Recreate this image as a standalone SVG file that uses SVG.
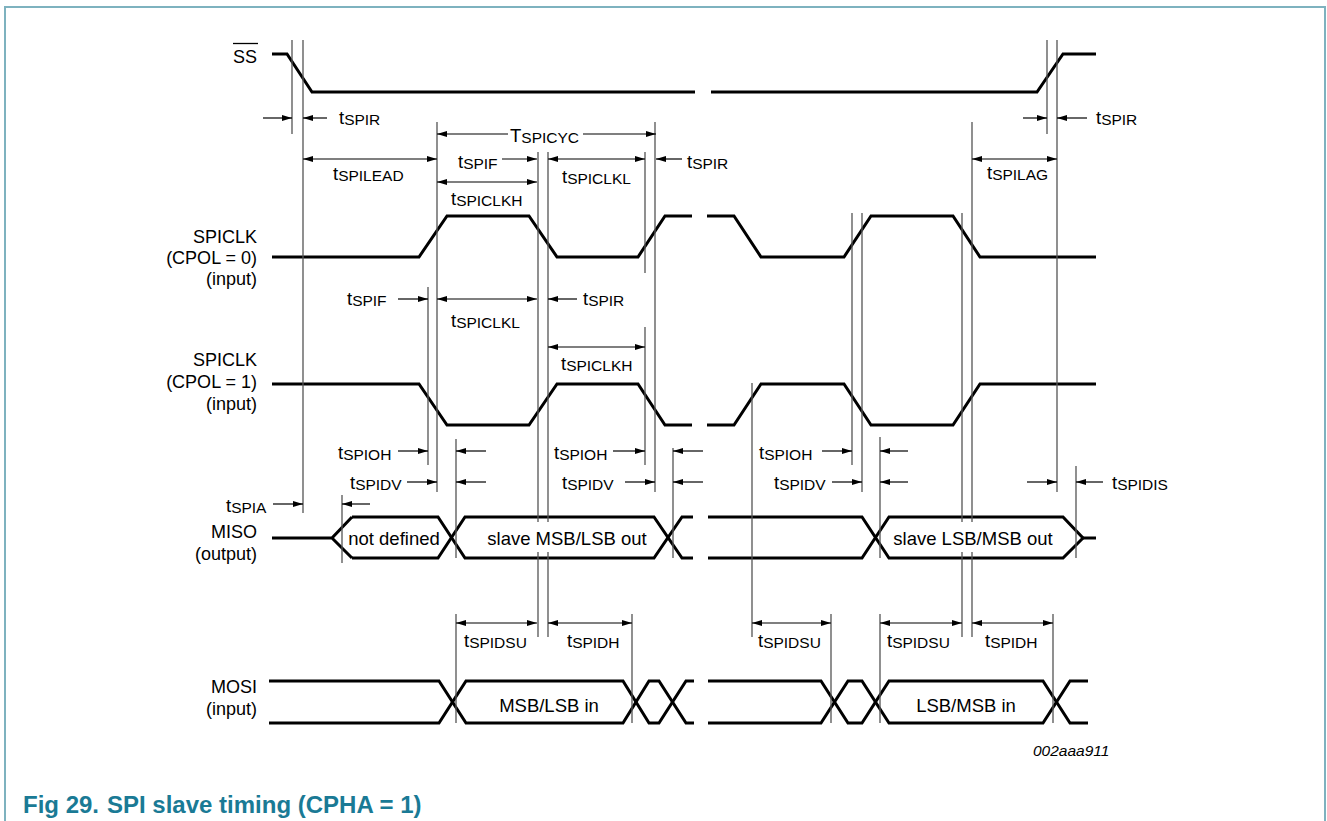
<svg xmlns="http://www.w3.org/2000/svg" width="1327" height="821" viewBox="0 0 1327 821">
<defs>
<style>
.wave{fill:none;stroke:#000;stroke-width:3;stroke-linejoin:miter;stroke-linecap:butt}
.guide{stroke:#555;stroke-width:1.3;fill:none}
.arr{stroke:#000;stroke-width:1.2;fill:none}
.one{marker-end:url(#ah)}
.two{marker-start:url(#ah);marker-end:url(#ah)}
.lbl{font-family:"Liberation Sans",Arial,sans-serif;font-size:18.5px;fill:#000}
.sig{font-family:"Liberation Sans",Arial,sans-serif;font-size:18px;fill:#000;text-anchor:end}
.dat{font-family:"Liberation Sans",Arial,sans-serif;font-size:18.5px;fill:#000;text-anchor:middle}
.sub{font-size:15.5px}
.cap{font-family:"Liberation Sans",Arial,sans-serif;font-size:24px;font-weight:bold;fill:#1a7a95}
.code{font-family:"Liberation Sans",Arial,sans-serif;font-size:15.5px;font-style:italic;fill:#000}
</style>
<marker id="ah" viewBox="0 0 10 6" refX="10" refY="3" markerWidth="10" markerHeight="6" markerUnits="userSpaceOnUse" orient="auto-start-reverse">
<path d="M0,0 L10,3 L0,6 z" fill="#000"/>
</marker>
</defs>
<rect width="1327" height="821" fill="#fff"/>
<path d="M5,821 V7 H1325 V821" fill="none" stroke="#7eb2bf" stroke-width="2"/>

<g id="labels-signals">
<text class="sig" x="257" y="63">SS</text>
<line x1="233" y1="43.5" x2="258" y2="43.5" stroke="#000" stroke-width="1.3"/>
<text class="sig" x="257" y="243">SPICLK</text>
<text class="sig" x="257" y="264">(CPOL = 0)</text>
<text class="sig" x="257" y="285">(input)</text>
<text class="sig" x="257" y="366">SPICLK</text>
<text class="sig" x="257" y="388">(CPOL = 1)</text>
<text class="sig" x="257" y="410">(input)</text>
<text class="sig" x="257" y="538">MISO</text>
<text class="sig" x="257" y="560">(output)</text>
<text class="sig" x="257" y="693">MOSI</text>
<text class="sig" x="257" y="715">(input)</text>
</g>

<g id="sig-ss">
<path class="wave" d="M272,54 H287 L312,92 H695"/>
<path class="wave" d="M711,92 H1037 L1063,54 H1096"/>
</g>

<g id="sig-spiclk-cpol0">
<path class="wave" d="M272,257 H419 L447,216 H529 L557,257 H638 L665,216 H692"/>
<path class="wave" d="M707,216 H734 L761,257 H844 L871,216 H953 L980,257 H1096"/>
</g>

<g id="sig-spiclk-cpol1">
<path class="wave" d="M272,384 H419 L447,425 H529 L557,384 H638 L665,425 H692"/>
<path class="wave" d="M707,425 H734 L761,384 H844 L871,425 H953 L980,384 H1096"/>
</g>

<g id="sig-miso">
<path class="wave" d="M272,538 H332 M352,517 L332,538 L352,558"/>
<path class="wave" d="M352,517 H438 L465,558 H654 L682,517 H693"/>
<path class="wave" d="M352,558 H438 L465,517 H654 L682,558 H693"/>
<path class="wave" d="M708,517 H862 L889,558 H1063 L1083,538 L1063,517 H889 L862,558 H708"/>
<path class="wave" d="M1083,538 H1096"/>
<text class="dat" x="394" y="545">not defined</text>
<text class="dat" x="567" y="545">slave MSB/LSB out</text>
<text class="dat" x="973" y="545">slave LSB/MSB out</text>
</g>

<g id="sig-mosi">
<path class="wave" d="M269,681 H439 L466,723 H623 L649,681 H659 L686,723 H694"/>
<path class="wave" d="M269,723 H439 L466,681 H623 L649,723 H659 L686,681 H694"/>
<path class="wave" d="M708,681 H821 L848,723 H862 L889,681 H1043 L1070,723 H1088"/>
<path class="wave" d="M708,723 H821 L848,681 H862 L889,723 H1043 L1070,681 H1088"/>
<text class="dat" x="549" y="712">MSB/LSB in</text>
<text class="dat" x="966" y="712">LSB/MSB in</text>
</g>

<g id="connectors">
<g id="guides">
<path class="guide" d="M292,40 V134 M303,40 V513 M342,495 V563 M428,287 V465 M437,122 V492
M456,439 V558 M456,614 V723 M538,152 V522 M538,552 V637 M548,152 V522 M548,552 V637
M632,614 V723 M645,152 V273 M645,327 V465 M655,122 V492 M673,448 V558
M752,383 V637 M831,614 V723 M852,213 V465 M862,213 V492 M880,437 V558 M880,614 V723
M962,213 V522 M962,552 V637 M972,122 V522 M972,552 V637 M1047,40 V134 M1057,40 V492
M1053,614 V723 M1076,466 V558"/>
</g>
<g id="arrows">
<line class="arr one" x1="263" y1="118" x2="292" y2="118"/>
<line class="arr one" x1="327" y1="118" x2="303" y2="118"/>
<line class="arr one" x1="1023" y1="118" x2="1047" y2="118"/>
<line class="arr one" x1="1087" y1="118" x2="1057" y2="118"/>
<line class="arr one" x1="508" y1="134" x2="437" y2="134"/>
<line class="arr one" x1="583" y1="134" x2="656" y2="134"/>
<line class="arr two" x1="303" y1="159" x2="437" y2="159"/>
<line class="arr one" x1="502" y1="159" x2="537" y2="159"/>
<line class="arr two" x1="548" y1="159" x2="645" y2="159"/>
<line class="arr one" x1="682" y1="159" x2="656" y2="159"/>
<line class="arr two" x1="437" y1="182" x2="537" y2="182"/>
<line class="arr two" x1="972" y1="159" x2="1057" y2="159"/>
<line class="arr one" x1="398" y1="299" x2="428" y2="299"/>
<line class="arr two" x1="437" y1="299" x2="537" y2="299"/>
<line class="arr one" x1="577" y1="299" x2="548" y2="299"/>
<line class="arr two" x1="548" y1="347" x2="645" y2="347"/>
<line class="arr one" x1="398" y1="451" x2="428" y2="451"/>
<line class="arr one" x1="486" y1="451" x2="456" y2="451"/>
<line class="arr one" x1="613" y1="451" x2="645" y2="451"/>
<line class="arr one" x1="703" y1="451" x2="673" y2="451"/>
<line class="arr one" x1="822" y1="451" x2="852" y2="451"/>
<line class="arr one" x1="908" y1="451" x2="880" y2="451"/>
<line class="arr one" x1="407" y1="482" x2="437" y2="482"/>
<line class="arr one" x1="486" y1="482" x2="456" y2="482"/>
<line class="arr one" x1="625" y1="482" x2="655" y2="482"/>
<line class="arr one" x1="703" y1="482" x2="673" y2="482"/>
<line class="arr one" x1="832" y1="482" x2="862" y2="482"/>
<line class="arr one" x1="908" y1="482" x2="880" y2="482"/>
<line class="arr one" x1="1027" y1="482" x2="1057" y2="482"/>
<line class="arr one" x1="1103" y1="482" x2="1076" y2="482"/>
<line class="arr one" x1="273" y1="504" x2="303" y2="504"/>
<line class="arr one" x1="370" y1="504" x2="342" y2="504"/>
<line class="arr two" x1="456" y1="623" x2="537" y2="623"/>
<line class="arr two" x1="548" y1="623" x2="632" y2="623"/>
<line class="arr two" x1="752" y1="623" x2="831" y2="623"/>
<line class="arr two" x1="880" y1="623" x2="962" y2="623"/>
<line class="arr two" x1="972" y1="623" x2="1053" y2="623"/>
</g>
</g>

<g id="timing-labels">
<text class="lbl" x="339" y="124">t<tspan class="sub" dy="1">SPIR</tspan></text>
<text class="lbl" x="1096" y="124">t<tspan class="sub" dy="1">SPIR</tspan></text>
<text class="lbl" x="510" y="142">T<tspan class="sub" dy="1">SPICYC</tspan></text>
<text class="lbl" x="333" y="180">t<tspan class="sub" dy="1">SPILEAD</tspan></text>
<text class="lbl" x="458" y="168">t<tspan class="sub" dy="1">SPIF</tspan></text>
<text class="lbl" x="562" y="183">t<tspan class="sub" dy="1">SPICLKL</tspan></text>
<text class="lbl" x="687" y="168">t<tspan class="sub" dy="1">SPIR</tspan></text>
<text class="lbl" x="451" y="205">t<tspan class="sub" dy="1">SPICLKH</tspan></text>
<text class="lbl" x="987" y="179">t<tspan class="sub" dy="1">SPILAG</tspan></text>
<text class="lbl" x="347" y="305">t<tspan class="sub" dy="1">SPIF</tspan></text>
<text class="lbl" x="451" y="327">t<tspan class="sub" dy="1">SPICLKL</tspan></text>
<text class="lbl" x="583" y="305">t<tspan class="sub" dy="1">SPIR</tspan></text>
<text class="lbl" x="561" y="370">t<tspan class="sub" dy="1">SPICLKH</tspan></text>
<text class="lbl" x="338" y="459">t<tspan class="sub" dy="1">SPIOH</tspan></text>
<text class="lbl" x="350" y="489">t<tspan class="sub" dy="1">SPIDV</tspan></text>
<text class="lbl" x="226" y="512">t<tspan class="sub" dy="1">SPIA</tspan></text>
<text class="lbl" x="554" y="459">t<tspan class="sub" dy="1">SPIOH</tspan></text>
<text class="lbl" x="562" y="489">t<tspan class="sub" dy="1">SPIDV</tspan></text>
<text class="lbl" x="759" y="459">t<tspan class="sub" dy="1">SPIOH</tspan></text>
<text class="lbl" x="774" y="489">t<tspan class="sub" dy="1">SPIDV</tspan></text>
<text class="lbl" x="1112" y="489">t<tspan class="sub" dy="1">SPIDIS</tspan></text>
<text class="lbl" x="464" y="647">t<tspan class="sub" dy="1">SPIDSU</tspan></text>
<text class="lbl" x="567" y="647">t<tspan class="sub" dy="1">SPIDH</tspan></text>
<text class="lbl" x="758" y="647">t<tspan class="sub" dy="1">SPIDSU</tspan></text>
<text class="lbl" x="887" y="647">t<tspan class="sub" dy="1">SPIDSU</tspan></text>
<text class="lbl" x="985" y="647">t<tspan class="sub" dy="1">SPIDH</tspan></text>
</g>

<text class="code" x="1033" y="756">002aaa911</text>
<text class="cap" y="813"><tspan x="23">Fig 29.</tspan><tspan x="107">SPI slave timing (CPHA = 1)</tspan></text>
</svg>
